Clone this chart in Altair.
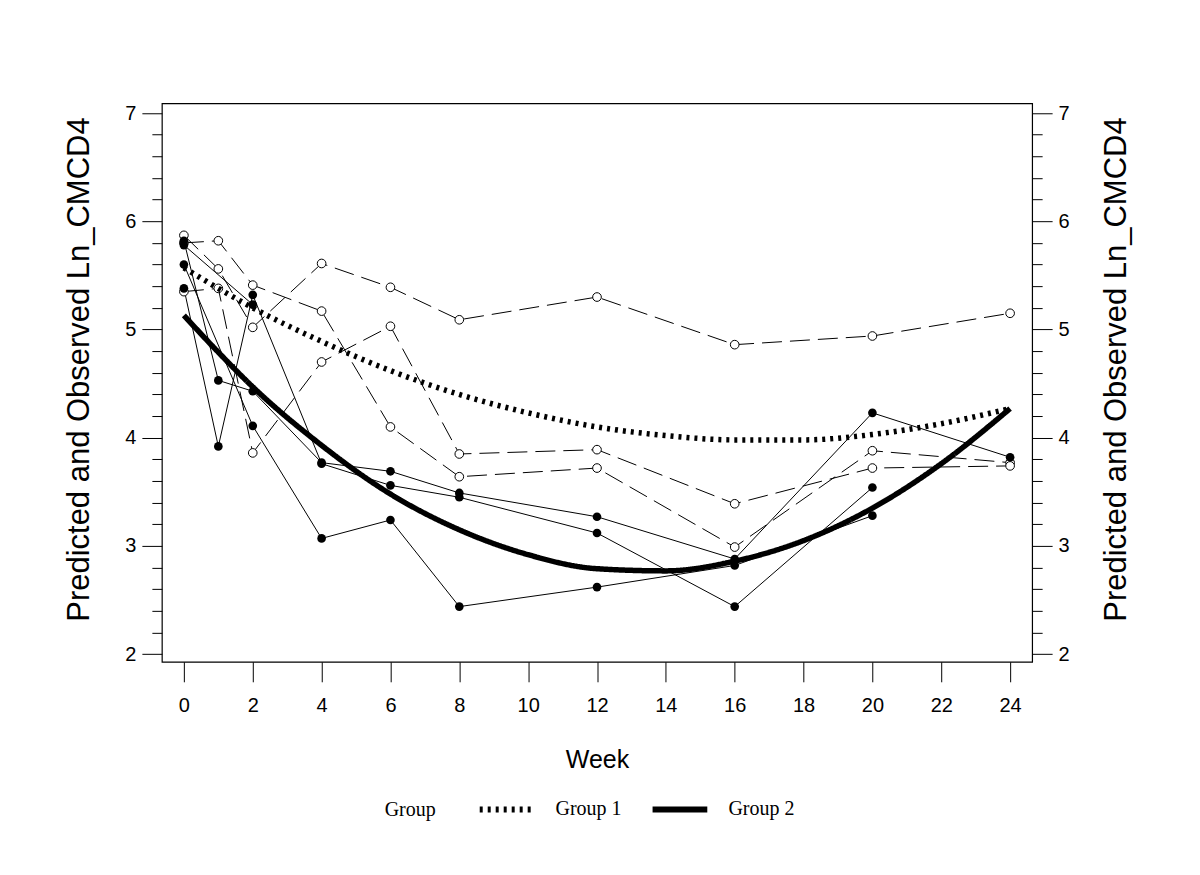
import altair as alt
import pandas as pd

# ---------------- data ----------------
obs_weeks = [0, 1, 2, 4, 6, 8, 12, 16, 20, 24]

# Group 1 subjects (open circles, dashed lines)
g1_s1 = [5.80, 5.82, 5.41, 5.17, 4.10, 3.64, 3.72, 2.99, 3.88, 3.77]
g1_s2 = [5.87, 5.56, 5.02, 5.61, 5.39, 5.09, 5.30, 4.86, 4.94, 5.15]
g1_s3 = [5.35, 5.38, 3.86, 4.70, 5.03, 3.85, 3.89, 3.39, 3.72, 3.74]

# Group 2 subjects (filled circles, solid lines)
g2_s1 = [5.82, 4.53, 4.43, 3.77, 3.69, 3.49, 3.27, 2.88, 4.23, 3.82]
g2_s2 = [5.38, 3.92, 5.32, 3.76, 3.56, 3.45, 3.12, 2.44, 3.54, None]
g2_s3 = [5.60, None, 4.11, 3.07, 3.24, 2.44, 2.62, 2.82, 3.28, None]
g2_s4 = [5.78, None, 5.23, None, None, None, None, None, None, None]

# Predicted curves
pred_weeks = [0, 1, 2, 4, 6, 8, 10, 12, 14, 16, 18, 20, 22, 24]
pred_g1 = [5.57, 5.38, 5.20, 4.89, 4.62, 4.40, 4.23, 4.10, 4.02, 3.98, 3.98, 4.03, 4.13, 4.27]
pred_g2 = [5.13, 4.79, 4.47, 3.93, 3.48, 3.15, 2.92, 2.79, 2.77, 2.86, 3.05, 3.35, 3.76, 4.27]

group_names = ["Group 1", "Group 2"]
x_tick_values = [0, 2, 4, 6, 8, 10, 12, 14, 16, 18, 20, 22, 24]
y_tick_values = [2.0, 2.2, 2.4, 2.6, 2.8, 3.0, 3.2, 3.4, 3.6, 3.8, 4.0, 4.2, 4.4, 4.6, 4.8,
                 5.0, 5.2, 5.4, 5.6, 5.8, 6.0, 6.2, 6.4, 6.6, 6.8, 7.0]
y_title = "Predicted and Observed Ln_CMCD4"
x_title = "Week"

# ---------------- tables ----------------
def long_table(subjects, group):
    rows = []
    for name, vals in subjects.items():
        for w, v in zip(obs_weeks, vals):
            if v is not None:
                rows.append({"Week": w, "Value": v, "Subject": name, "Group": group})
    return rows

obs1 = pd.DataFrame(long_table({"g1a": g1_s1, "g1b": g1_s2, "g1c": g1_s3}, "Group 1"))
obs2 = pd.DataFrame(long_table({"g2a": g2_s1, "g2b": g2_s2, "g2c": g2_s3, "g2d": g2_s4}, "Group 2"))
pred = pd.DataFrame(
    [{"Week": w, "Value": v, "Group": "Group 1"} for w, v in zip(pred_weeks, pred_g1)]
    + [{"Week": w, "Value": v, "Group": "Group 2"} for w, v in zip(pred_weeks, pred_g2)]
)

FONT = "Liberation Sans"
SERIF = "Liberation Serif"

xscale = alt.Scale(domain=[-0.64, 24.64], nice=False, zero=False)
yscale = alt.Scale(domain=[1.93, 7.09], nice=False, zero=False)

x_axis = alt.Axis(values=x_tick_values, tickSize=20, tickColor="black", tickWidth=1,
                  domain=False, grid=False, labelFont=FONT, labelFontSize=20,
                  labelColor="black", labelPadding=14, labelFlush=False,
                  title=x_title, titleFont=FONT, titleFontSize=25, titleFontWeight="normal",
                  titleColor="black", titleY=98, titleBaseline="middle")

is_major = "abs(datum.value - round(datum.value)) < 0.01"
label_expr = "abs(datum.value - round(datum.value)) < 0.01 ? format(datum.value, 'd') : ''"
tick_size = {"condition": {"test": is_major, "value": 20}, "value": 10}

def y_axis(orient, title_x):
    return alt.Axis(orient=orient, values=y_tick_values, tickSize=tick_size,
                    tickColor="black", tickWidth=1, domain=False, grid=False,
                    labelExpr=label_expr, labelFont=FONT, labelFontSize=20,
                    labelColor="black", labelPadding=6, labelFlush=False,
                    title=y_title, titleFont=FONT, titleFontSize=31,
                    titleFontWeight="normal", titleColor="black", titleAngle=270,
                    titleX=title_x, titleY=266, titleBaseline="middle", titleAlign="center")

x_enc = alt.X("Week:Q", scale=xscale, axis=x_axis)

lines1 = alt.Chart(obs1).mark_line(color="black", strokeWidth=1, strokeDash=[20, 8]).encode(
    x=x_enc,
    y=alt.Y("Value:Q", scale=yscale, axis=y_axis("left", -82)),
    detail="Subject:N",
    order="Week:Q",
)
lines2 = alt.Chart(obs2).mark_line(color="black", strokeWidth=1).encode(
    x=x_enc,
    y=alt.Y("Value:Q", scale=yscale, axis=None),
    detail="Subject:N",
    order="Week:Q",
)
pts1 = alt.Chart(obs1).mark_circle(fill="white", stroke="black", strokeWidth=1,
                                   size=75, opacity=1).encode(
    x=x_enc,
    y=alt.Y("Value:Q", scale=yscale, axis=None),
)
pts2 = alt.Chart(obs2).mark_circle(color="black", size=75, opacity=1).encode(
    x=x_enc,
    y=alt.Y("Value:Q", scale=yscale, axis=None),
)
pred_lines = alt.Chart(pred).mark_line(color="black", strokeWidth=5.5,
                                       interpolate="monotone").encode(
    x=x_enc,
    y=alt.Y("Value:Q", scale=yscale, axis=y_axis("right", 84)),
    strokeDash=alt.StrokeDash(
        "Group:N",
        scale=alt.Scale(domain=group_names, range=[[3, 5], [1, 0]]),
        legend=alt.Legend(
            title="Group", orient="none", legendX=223, legendY=676,
            direction="horizontal", titleOrient="left", titleAnchor="middle",
            titleBaseline="top", titleFont=SERIF,
            titleFontSize=20, titleFontWeight="normal", titleColor="black",
            titlePadding=40, labelFont=SERIF, labelFontSize=20, labelColor="black",
            labelOffset=18, columnPadding=18, symbolType="stroke",
            symbolSize=3000, symbolStrokeWidth=6, symbolStrokeColor="black",
        ),
    ),
)

chart = (
    alt.layer(lines1, lines2, pts1, pts2, pred_lines)
    .resolve_axis(y="independent")
    .resolve_scale(y="shared")
    .properties(
        width=871, height=559,
        padding={"left": 154, "top": 95, "right": 160, "bottom": 200},
        autosize=alt.AutoSizeParams(type="none"),
        background="white",
    )
    .configure_view(stroke="black", strokeWidth=1.2)
)

chart.save("out.html", embed_options={"renderer": "svg", "actions": False})
